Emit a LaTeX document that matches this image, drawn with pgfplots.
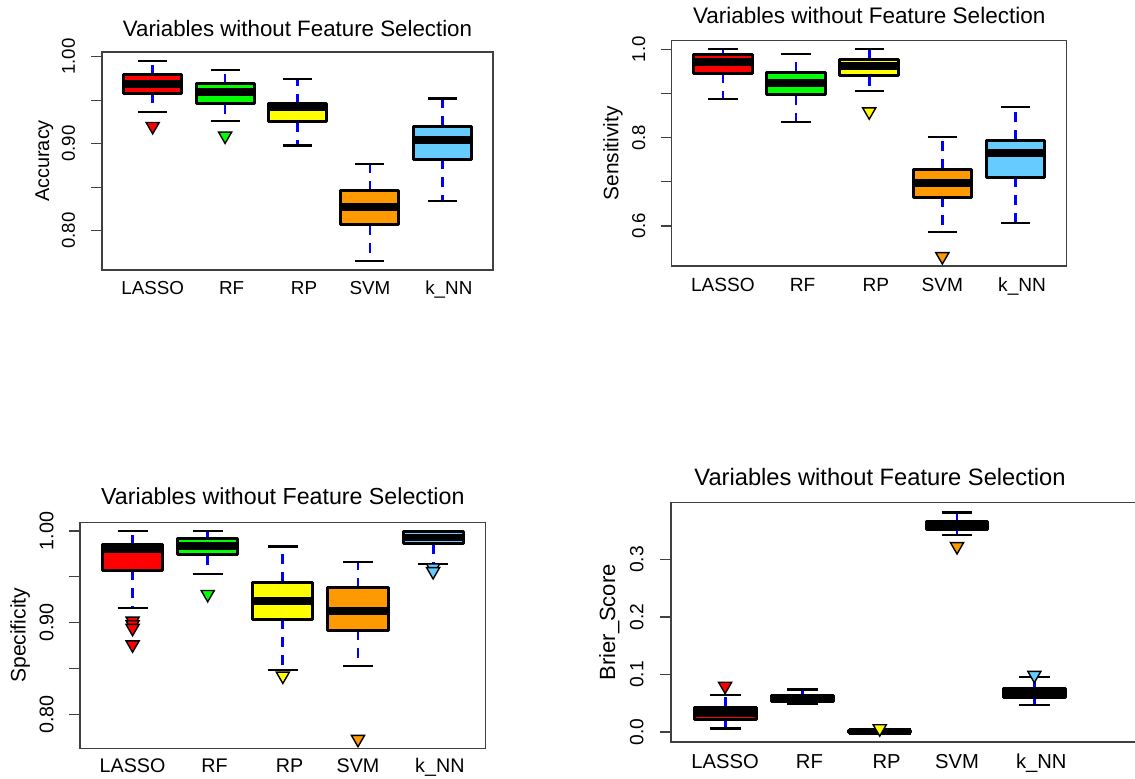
\documentclass[border=0pt]{standalone}
\usepackage{pgfplots}
\pgfplotsset{compat=1.18}
\usepgfplotslibrary{statistics}
\usepackage{fontspec}
\setmainfont{Liberation Sans}
\definecolor{rorange}{RGB}{255,153,0}
\definecolor{rblue}{RGB}{102,204,255}
\definecolor{rgreen}{RGB}{0,255,0}
\definecolor{ryellow}{RGB}{255,255,0}
\definecolor{rred}{RGB}{255,0,0}
\definecolor{frame}{RGB}{64,64,64}
\pgfplotsset{
  boxplot/draw/lower whisker/.code={%
    \draw[blue, line width=1.4pt, dash pattern=on 5pt off 4pt]
      (boxplot box cs:\pgfplotsboxplotvalue{lower quartile},0.5) -- (boxplot box cs:\pgfplotsboxplotvalue{lower whisker},0.5);
    \draw[black, line width=1.1pt, solid]
      (boxplot whisker cs:\pgfplotsboxplotvalue{lower whisker},0) -- (boxplot whisker cs:\pgfplotsboxplotvalue{lower whisker},1);
  },
  boxplot/draw/upper whisker/.code={%
    \draw[blue, line width=1.4pt, dash pattern=on 5pt off 4pt]
      (boxplot box cs:\pgfplotsboxplotvalue{upper quartile},0.5) -- (boxplot box cs:\pgfplotsboxplotvalue{upper whisker},0.5);
    \draw[black, line width=1.1pt, solid]
      (boxplot whisker cs:\pgfplotsboxplotvalue{upper whisker},0) -- (boxplot whisker cs:\pgfplotsboxplotvalue{upper whisker},1);
  },
  rbox/.style={
    boxplot/draw direction=y,
    boxplot/box extend=0.8,
    boxplot/whisker extend=0.4,
    boxplot/every box/.style={draw=black, line width=1.5pt, fill=#1, line join=round},
    boxplot/every median/.style={draw=black, line width=3.9pt},
    mark=triangle*, mark size=3.8pt,
    mark options={rotate=180, fill=#1, draw=black, line width=0.7pt, solid},
  },
  rpanel/.style={
    scale only axis, anchor=south west, clip=false,
    axis line style={draw=frame, line width=0.7pt},
    xmin=0.3, xmax=5.7,
    xtick={1,2.09,3.09,4,5.09},
    xticklabels={LASSO,RF,RP,SVM,k\_NN},
    xtick style={draw=none},
    ytick style={draw=frame, line width=0.6pt},
    major tick length=5.5pt, tick align=outside,
    ytick pos=left, xtick pos=bottom,
  },
}
\begin{document}
\begin{tikzpicture}
\useasboundingbox (0,0) rectangle (567.5pt,389pt);
% ---------- Panel 1: Accuracy ----------
\begin{axis}[rpanel,
  at={(51pt,254pt)}, width=195.5pt, height=109pt,
  ymin=0.7548, ymax=1.0054,
  ytick={0.8,0.85,0.9,0.95,1.0}, yticklabels={0.80,,0.90,,1.00},
  every axis title/.style={at={(axis description cs:0.5,1)}, anchor=base, yshift=7.8pt, font=\fontsize{11.15}{13}\selectfont},
  title={Variables without Feature Selection},
  every axis y label/.style={at={(axis description cs:0,0.5)}, xshift=-26.4pt, rotate=90, anchor=base, font=\fontsize{9.95}{12}\selectfont},
  ylabel={Accuracy},
  yticklabel style={font=\fontsize{9.3}{11}\selectfont, xshift=-8pt, rotate=90, anchor=base},
  xticklabel style={font=\fontsize{9.4}{11}\selectfont, anchor=base, yshift=-6.6pt},
]
\addplot[rbox=rred, boxplot prepared={draw position=1, lower whisker=0.936, lower quartile=0.958, median=0.969, upper quartile=0.979, upper whisker=0.995}] coordinates {(0,0.920)};
\addplot[rbox=rgreen, boxplot prepared={draw position=2, lower whisker=0.926, lower quartile=0.946, median=0.959, upper quartile=0.969, upper whisker=0.985}] coordinates {(0,0.909)};
\addplot[rbox=ryellow, boxplot prepared={draw position=3, lower whisker=0.898, lower quartile=0.925, median=0.942, upper quartile=0.946, upper whisker=0.974}] coordinates {};
\addplot[rbox=rorange, boxplot prepared={draw position=4, lower whisker=0.765, lower quartile=0.807, median=0.827, upper quartile=0.846, upper whisker=0.877}] coordinates {};
\addplot[rbox=rblue, boxplot prepared={draw position=5, lower whisker=0.834, lower quartile=0.882, median=0.904, upper quartile=0.920, upper whisker=0.952}] coordinates {};
\end{axis}
% ---------- Panel 2: Sensitivity ----------
\begin{axis}[rpanel,
  at={(335.85pt,256pt)}, width=197.5pt, height=112.65pt,
  ymin=0.5094, ymax=1.0196,
  ytick={0.6,0.7,0.8,0.9,1.0}, yticklabels={0.6,,0.8,,1.0},
  every axis title/.style={at={(axis description cs:0.5,1)}, anchor=base, yshift=8.35pt, font=\fontsize{11.25}{13}\selectfont},
  title={Variables without Feature Selection},
  every axis y label/.style={at={(axis description cs:0,0.5)}, xshift=-26.7pt, rotate=90, anchor=base, font=\fontsize{10.45}{12}\selectfont},
  ylabel={Sensitivity},
  yticklabel style={font=\fontsize{9.3}{11}\selectfont, xshift=-7.85pt, rotate=90, anchor=base},
  xticklabel style={font=\fontsize{9.55}{11}\selectfont, anchor=base, yshift=-7.3pt},
]
\addplot[rbox=rred, boxplot prepared={draw position=1, lower whisker=0.887, lower quartile=0.946, median=0.972, upper quartile=0.989, upper whisker=1.0}] coordinates {};
\addplot[rbox=rgreen, boxplot prepared={draw position=2, lower whisker=0.836, lower quartile=0.897, median=0.923, upper quartile=0.948, upper whisker=0.989}] coordinates {};
\addplot[rbox=ryellow, boxplot prepared={draw position=3, lower whisker=0.906, lower quartile=0.940, median=0.963, upper quartile=0.976, upper whisker=1.0}] coordinates {(0,0.859)};
\addplot[rbox=rorange, boxplot prepared={draw position=4, lower whisker=0.586, lower quartile=0.665, median=0.698, upper quartile=0.728, upper whisker=0.801}] coordinates {(0,0.531)};
\addplot[rbox=rblue, boxplot prepared={draw position=5, lower whisker=0.606, lower quartile=0.710, median=0.765, upper quartile=0.794, upper whisker=0.869}] coordinates {};
\end{axis}
% ---------- Panel 3: Specificity ----------
\begin{axis}[rpanel,
  at={(40pt,14.85pt)}, width=202.85pt, height=113pt,
  ymin=0.763, ymax=1.0095,
  ytick={0.8,0.85,0.9,0.95,1.0}, yticklabels={0.80,,0.90,,1.00},
  every axis title/.style={at={(axis description cs:0.5,1)}, anchor=base, yshift=9pt, font=\fontsize{11.6}{13}\selectfont},
  title={Variables without Feature Selection},
  every axis y label/.style={at={(axis description cs:0,0.5)}, xshift=-27.2pt, rotate=90, anchor=base, font=\fontsize{10.55}{12}\selectfont},
  ylabel={Specificity},
  yticklabel style={font=\fontsize{9.85}{11}\selectfont, xshift=-7.85pt, rotate=90, anchor=base},
  xticklabel style={font=\fontsize{9.85}{11}\selectfont, anchor=base, yshift=-6.5pt},
]
\addplot[rbox=rred, boxplot prepared={draw position=1, lower whisker=0.916, lower quartile=0.957, median=0.980, upper quartile=0.985, upper whisker=1.0}] coordinates {(0,0.902) (0,0.898) (0,0.894) (0,0.876)};
\addplot[rbox=rgreen, boxplot prepared={draw position=2, lower whisker=0.953, lower quartile=0.974, median=0.984, upper quartile=0.992, upper whisker=1.0}] coordinates {(0,0.931)};
\addplot[rbox=ryellow, boxplot prepared={draw position=3, lower whisker=0.848, lower quartile=0.904, median=0.924, upper quartile=0.944, upper whisker=0.983}] coordinates {(0,0.842)};
\addplot[rbox=rorange, boxplot prepared={draw position=4, lower whisker=0.853, lower quartile=0.892, median=0.913, upper quartile=0.938, upper whisker=0.966}] coordinates {(0,0.773)};
\addplot[rbox=rblue, boxplot prepared={draw position=5, lower whisker=0.964, lower quartile=0.986, median=0.993, upper quartile=1.0, upper whisker=1.0}] coordinates {(0,0.960) (0,0.956)};
\end{axis}
% ---------- Panel 4: Brier score ----------
\begin{axis}[rpanel,
  at={(335.5pt,18pt)}, width=234.5pt, height=119.65pt,
  xmin=0.3, xmax=6.367,
  ymin=-0.0174, ymax=0.399,
  ytick={0,0.1,0.2,0.3}, yticklabels={0.0,0.1,0.2,0.3},
  every axis title/.style={at={(axis description cs:0.4456,1)}, anchor=base, yshift=8.85pt, font=\fontsize{11.85}{13}\selectfont},
  title={Variables without Feature Selection},
  every axis y label/.style={at={(axis description cs:0,0.5)}, xshift=-27.9pt, rotate=90, anchor=base, font=\fontsize{11}{13}\selectfont},
  ylabel={Brier\_Score},
  yticklabel style={font=\fontsize{9.6}{11}\selectfont, xshift=-8.3pt, rotate=90, anchor=base},
  xticklabel style={font=\fontsize{10.1}{12}\selectfont, anchor=base, yshift=-7.7pt},
]
\addplot[rbox=rred, boxplot prepared={draw position=1, lower whisker=0.006, lower quartile=0.022, median=0.0325, upper quartile=0.043, upper whisker=0.064}] coordinates {(0,0.080)};
\addplot[rbox=rgreen, boxplot prepared={draw position=2, lower whisker=0.049, lower quartile=0.053, median=0.059, upper quartile=0.064, upper whisker=0.074}] coordinates {};
\addplot[rbox=ryellow, boxplot prepared={draw position=3, lower whisker=0.0, lower quartile=0.0, median=0.001, upper quartile=0.003, upper whisker=0.005}] coordinates {(0,0.006)};
\addplot[rbox=rorange, boxplot prepared={draw position=4, lower whisker=0.343, lower quartile=0.352, median=0.359, upper quartile=0.366, upper whisker=0.382}] coordinates {(0,0.323)};
\addplot[rbox=rblue, boxplot prepared={draw position=5, lower whisker=0.047, lower quartile=0.060, median=0.067, upper quartile=0.075, upper whisker=0.096}] coordinates {(0,0.099)};
\end{axis}
\end{tikzpicture}
\end{document}
